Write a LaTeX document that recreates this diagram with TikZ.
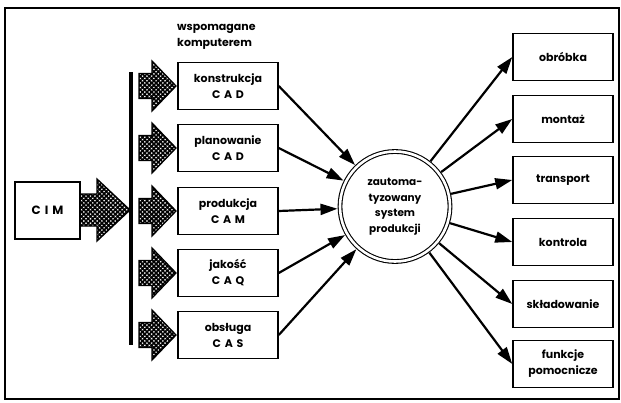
\documentclass[tikz,border=0pt]{standalone}
\usepackage{fontspec}
\setmainfont{Poppins}
\usetikzlibrary{arrows.meta,patterns.meta}
\newcommand\hatcharrow[6]{% x0,x1,x2,yc,b,h
  \def\hpath{({#1},{#4-#5}) -- ({#2},{#4-#5}) -- ({#2},{#4-#6}) -- ({#3},{#4}) -- ({#2},{#4+#6}) -- ({#2},{#4+#5}) -- ({#1},{#4+#5}) -- cycle}
  \path[pattern={Lines[angle=45,distance=3.2pt,line width=1.7pt]}] \hpath;
  \path[pattern={Lines[angle=-45,distance=3.2pt,line width=1.7pt]}] \hpath;
  \draw[line width=1.3pt,line join=miter] \hpath;
}
\begin{document}
\begin{tikzpicture}[x=1pt,y=-1pt,
  box/.style={draw, line width=1.5pt, minimum width=100pt, minimum height=47pt, align=center,
    font=\bfseries\fontsize{11}{16}\selectfont, inner sep=0pt},
  conn/.style={line width=2.2pt, -{Triangle[length=17pt,width=11pt]}},
  lbl/.style={align=left, font=\bfseries\fontsize{11}{16.5}\selectfont, inner sep=0pt}]
\useasboundingbox (0,0) rectangle (621,402);
\draw[line width=1.3pt] (5,8) rectangle (619,399);
% CIM
\node[box, minimum width=65pt, minimum height=57pt, font=\bfseries\fontsize{12}{14}\selectfont] (cim) at (47.5,210.5) {C\,\,I\,\,M};
\hatcharrow{80}{97}{130}{210}{16}{31}
% bar
\coordinate (bartop) at (131,72);
\coordinate (barbot) at (131,345);
\draw[line width=3.5pt] (bartop) -- (barbot);
\node[lbl, anchor=west] (wsp) at (177,37) {wspomagane\\komputerem};
% left boxes
\foreach \y/\n/\t in {86/b1/{konstrukcja\\C\,\,A\,\,D},148/b2/{planowanie\\C\,\,A\,\,D},211/b3/{produkcja\\C\,\,A\,\,M},273/b4/{jakość\\C\,\,A\,\,Q},335/b5/{obsługa\\C\,\,A\,\,S}}{
  \hatcharrow{139}{152}{176}{\y}{12.5}{25}
  \node[box] (\n) at (228,\y) {\t};
}
% circle
\node[circle, draw, line width=1.1pt, double, double distance=2.6pt, minimum size=110pt, inner sep=0pt,
  align=center, font=\bfseries\fontsize{10.5}{15.5}\selectfont] (sys) at (395,206.5) {zautoma-\\tyzowany\\system\\produkcji};
% right boxes
\foreach \y/\n/\t in {57/r1/{obróbka},119/r2/{montaż},180/r3/{transport},242/r4/{kontrola},304/r5/{składowanie},364/r6/{funkcje\\pomocnicze}}{
  \node[box] (\n) at (563,\y) {\t};
}
\foreach \n in {b1,b2,b3,b4,b5} \draw[conn, shorten >=2pt] (\n.east) -- (sys);
\foreach \n in {r1,r2,r3,r4,r5,r6} \draw[conn, shorten <=2pt] (sys) -- (\n.west);
\end{tikzpicture}
\end{document}
